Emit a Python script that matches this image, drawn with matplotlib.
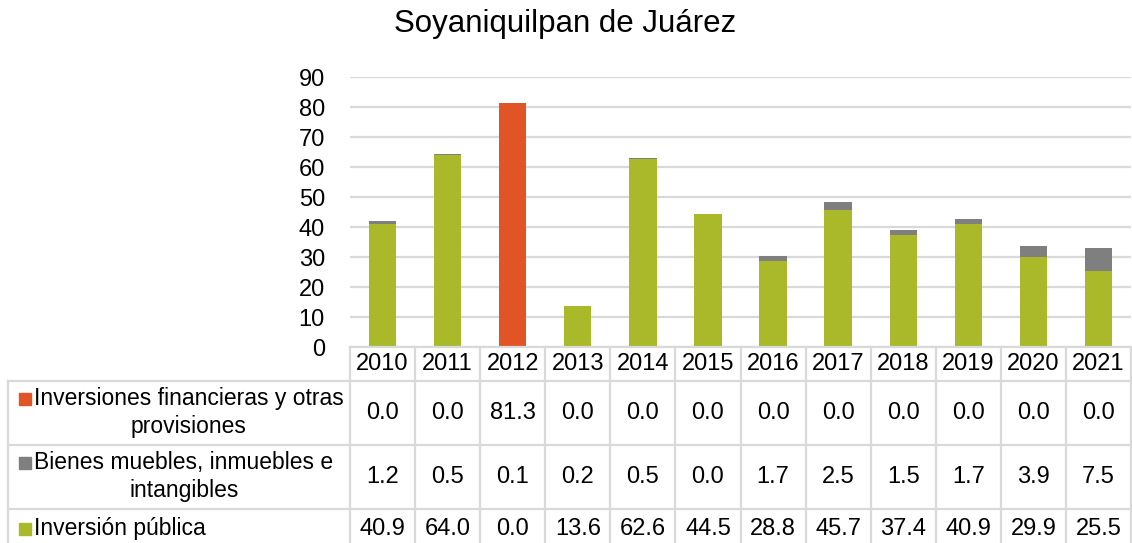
import matplotlib.pyplot as plt
from matplotlib.lines import Line2D
from matplotlib.patches import Rectangle
import numpy as np

plt.rcParams['font.family'] = ['Liberation Sans', 'DejaVu Sans']

# data
years = ['2010', '2011', '2012', '2013', '2014', '2015', '2016', '2017', '2018', '2019', '2020', '2021']
inv_publica = [40.9, 64.0, 0.0, 13.6, 62.6, 44.5, 28.8, 45.7, 37.4, 40.9, 29.9, 25.5]
bienes = [1.2, 0.5, 0.1, 0.2, 0.5, 0.0, 1.7, 2.5, 1.5, 1.7, 3.9, 7.5]
inv_financieras = [0.0, 0.0, 81.3, 0.0, 0.0, 0.0, 0.0, 0.0, 0.0, 0.0, 0.0, 0.0]
series_names = ['Inversiones financieras y otras\nprovisiones',
                'Bienes muebles, inmuebles e\nintangibles',
                'Inversión pública']

green = '#A9B92A'
gray = '#7F7F7F'
orange = '#E05426'
grid_c = '#D9D9D9'
fs = 17

W, H = 1132, 543
fig = plt.figure(figsize=(W / 100, H / 100), dpi=100)

def fx(px):
    return px / W

def fy(py):
    return 1 - py / H

left, right, top, bottom = 350, 1131, 77, 347
ax = fig.add_axes([fx(left), fy(bottom), fx(right) - fx(left), fy(top) - fy(bottom)])

x = np.arange(len(years))
pub = np.array(inv_publica)
bie = np.array(bienes)
fin = np.array(inv_financieras)
bw = 0.42
ax.bar(x, pub, bw, color=green, zorder=3)
ax.bar(x, bie, bw, bottom=pub, color=gray, zorder=3)
ax.bar(x, fin, bw, bottom=pub + bie, color=orange, zorder=3)

ax.set_xlim(-0.5, len(years) - 0.5)
ax.set_ylim(0, 90)
ax.set_yticks(range(0, 91, 10))
ax.yaxis.grid(True, color=grid_c, linewidth=1.6, zorder=0)
ax.set_xticks([])
for s in ax.spines.values():
    s.set_visible(False)
ax.tick_params(axis='y', length=0, pad=18, labelsize=fs)

fig.text(fx(565), fy(24), 'Soyaniquilpan de Juárez', ha='center', va='center', fontsize=22.5)

# data table
col_w = (right - left) / len(years)
row_lines = [347, 381, 445, 509]
lw = 1.6
def hline(y, x0, x1):
    fig.add_artist(Line2D([fx(x0), fx(x1)], [fy(y), fy(y)], color=grid_c, lw=lw))

def vline(xp, y0, y1):
    fig.add_artist(Line2D([fx(xp), fx(xp)], [fy(y0), fy(y1)], color=grid_c, lw=lw))

hline(347, left, right)
for y in row_lines[1:]:
    hline(y, 8, right)
vline(8, 381, H)
for i in range(len(years) + 1):
    vline(left + i * col_w, 347, H)

for i, yr in enumerate(years):
    fig.text(fx(left + (i + 0.5) * col_w), fy(364), yr, ha='center', va='center', fontsize=fs)

rows = [inv_financieras, bienes, inv_publica]
colors = [orange, gray, green]
row_centers = [413, 477, 529]
label_cx = [189, 184, None]
for r, (vals, name, c, yc) in enumerate(zip(rows, series_names, colors, row_centers)):
    for i, v in enumerate(vals):
        fig.text(fx(left + (i + 0.5) * col_w), fy(yc), f'{v:.1f}', ha='center', va='center', fontsize=fs)
    if '\n' in name:
        first, second = name.split('\n')
        fig.text(fx(label_cx[r]), fy(yc - 14), first, ha='center', va='center', fontsize=16.5)
        fig.text(fx(label_cx[r]), fy(yc + 14), second, ha='center', va='center', fontsize=16.5)
        my = yc - 14
    else:
        fig.text(fx(34), fy(yc), name, ha='left', va='center', fontsize=16.5)
        my = yc
    fig.add_artist(Rectangle((fx(19), fy(my + 6)), fx(12), 12 / H, color=c,
                             transform=fig.transFigure))

fig.savefig('out.png', dpi=100)
